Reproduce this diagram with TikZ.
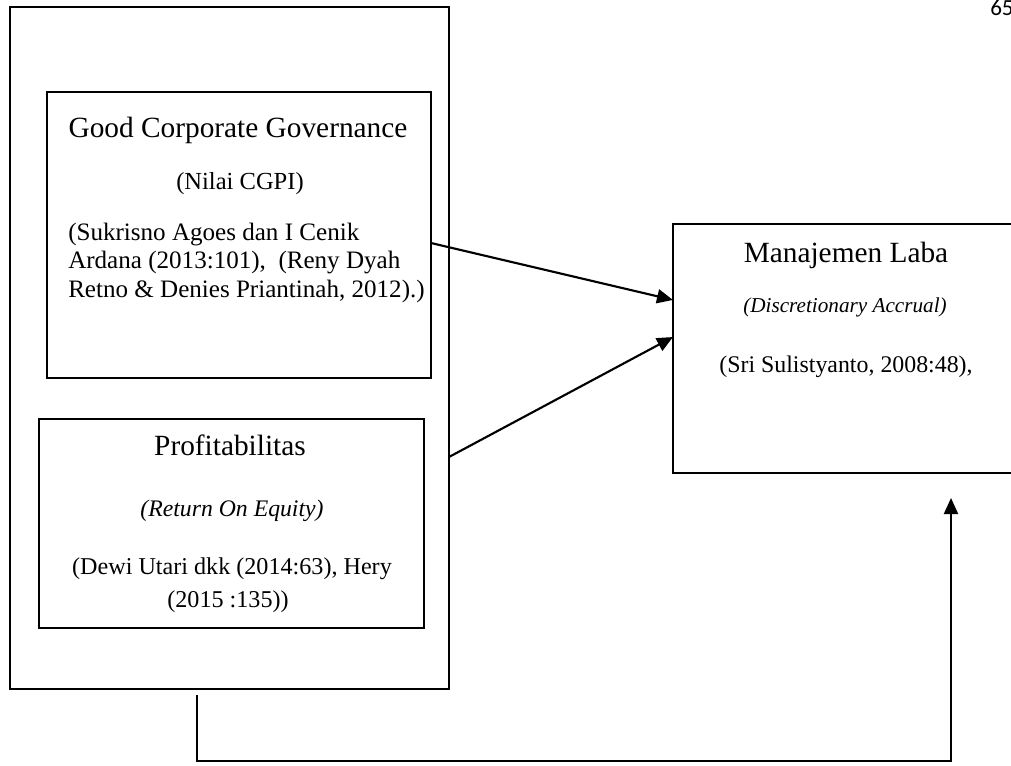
\documentclass[tikz,border=0pt]{standalone}
\usepackage{fontspec}
\setmainfont{Liberation Serif}
\newfontfamily\pagefont{Carlito}
\usetikzlibrary{arrows.meta,calc}
\begin{document}
\begin{tikzpicture}[x=0.75pt,y=-0.75pt,
  box/.style={draw,line width=1.6pt,inner sep=0pt,outer sep=0pt,anchor=north west},
  arr/.style={line width=1.6pt,-{Triangle[length=12pt,width=10.5pt]}},
  lbl/.style={inner sep=0pt,anchor=base,align=center},
  lbll/.style={inner sep=0pt,anchor=base west}]
\useasboundingbox (0,0) rectangle (1011,765);
\clip (0,0) rectangle (1011,765);
% boxes
\node[box,minimum width=329.25pt,minimum height=511.5pt] (outer) at (10,7) {};
\node[box,minimum width=288pt,minimum height=214.5pt] (gcg) at (47,92) {};
\node[box,minimum width=288.75pt,minimum height=156.75pt] (prof) at (39,419) {};
\node[box,minimum width=267pt,minimum height=186.75pt] (ml) at (673,224) {};
% GCG texts
\node[lbl,font=\fontsize{22}{26}\selectfont] (g1) at (238,137) {Good Corporate Governance};
\node[lbl,font=\fontsize{18.4}{22}\selectfont] (g2) at (240,189) {(Nilai CGPI)};
\node[lbll,font=\fontsize{18.8}{22}\selectfont] (g3) at (68,240) {(Sukrisno Agoes dan I Cenik};
\node[lbll,font=\fontsize{18.8}{22}\selectfont] (g4) at (68,268.5) {Ardana (2013:101),\ \ (Reny Dyah};
\node[lbll,font=\fontsize{18.8}{22}\selectfont] (g5) at (68,297) {Retno \& Denies Priantinah, 2012).)};
% Profitabilitas texts
\node[lbl,font=\fontsize{22}{26}\selectfont] (p1) at (230,455) {Profitabilitas};
\node[lbl,font=\itshape\fontsize{17.8}{22}\selectfont] (p2) at (232,516) {(Return On Equity)};
\node[lbl,font=\fontsize{18.1}{22}\selectfont] (p3) at (232,574) {(Dewi Utari dkk (2014:63), Hery};
\node[lbl,font=\fontsize{18.1}{22}\selectfont] (p4) at (228,607) {(2015 :135))};
% Manajemen Laba texts
\node[lbl,font=\fontsize{22}{26}\selectfont] (m1) at (846,262) {Manajemen Laba};
\node[lbl,font=\itshape\fontsize{15.9}{20}\selectfont] (m2) at (845,312) {(Discretionary Accrual)};
\node[lbl,font=\fontsize{17.9}{22}\selectfont] (m3) at (846,372) {(Sri Sulistyanto, 2008:48),};
% page number
\node[lbll,font=\pagefont\fontsize{17.3}{20}\selectfont] (pg) at (990,15) {65};
% connectors
\draw[arr] ([yshift=-6pt]gcg.east) -- ([yshift=36.4pt]ml.west);
\draw[arr] ([yshift=-81.75pt]outer.east) -- ([yshift=8.6pt]ml.west);
\draw[arr] ([xshift=-24.4pt,yshift=-4.5pt]outer.south) -- ++(0,66) -| ([xshift=75pt,yshift=-18.75pt]ml.south);
\end{tikzpicture}
\end{document}
